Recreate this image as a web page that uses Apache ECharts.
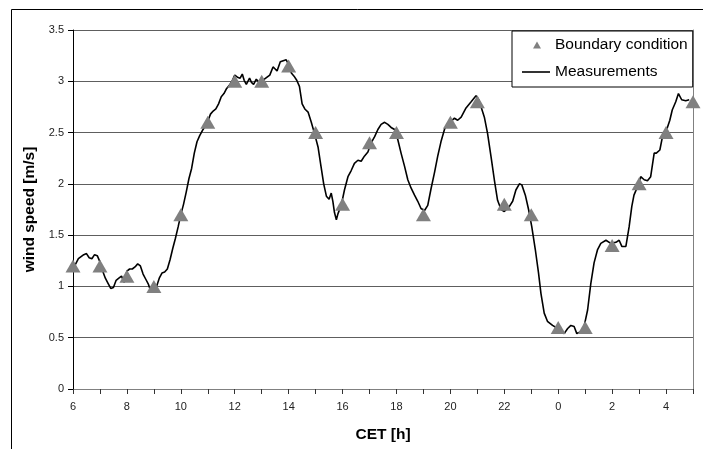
<!DOCTYPE html>
<html>
<head>
<meta charset="utf-8">
<script src="https://cdn.jsdelivr.net/npm/echarts@6/dist/echarts.min.js"></script>
<style>
html,body{margin:0;padding:0;background:#fff;}
#chart{width:703px;height:449px;}
</style>
</head>
<body>
<div id="chart"></div>
<script>
// Boundary condition (hourly), hours counted from 6 h to 29 h (= 5 h next day)
var bcHours = [6,7,8,9,10,11,12,13,14,15,16,17,18,19,20,21,22,23,24,25,26,27,28,29];
var bcValues = [1.2,1.2,1.1,1.0,1.7,2.6,3.0,3.0,3.15,2.5,1.8,2.4,2.5,1.7,2.6,2.8,1.8,1.7,0.6,0.6,1.4,2.0,2.5,2.8];

// Measurements
var measHours = [
6.00,6.10,6.20,6.30,6.40,6.50,6.60,6.70,6.80,6.90,7.00,7.10,7.20,7.30,7.40,7.50,7.60,7.70,7.80,7.90,
8.00,8.10,8.20,8.30,8.40,8.50,8.60,8.70,8.80,8.85,9.00,9.10,9.20,9.30,9.40,9.50,9.60,9.70,9.80,9.90,
10.00,10.10,10.20,10.30,10.40,10.50,10.60,10.70,10.80,10.90,11.00,11.10,11.20,11.30,11.40,11.50,11.60,11.70,11.80,11.90,
12.00,12.10,12.20,12.28,12.35,12.43,12.55,12.62,12.70,12.80,12.90,13.00,13.10,13.20,13.30,13.42,13.50,13.57,13.69,13.80,
13.91,14.00,14.10,14.20,14.30,14.40,14.50,14.60,14.72,14.84,14.96,15.09,15.20,15.30,15.40,15.50,15.58,15.64,15.70,15.77,
15.83,15.95,16.07,16.20,16.32,16.44,16.57,16.69,16.81,16.94,17.06,17.19,17.31,17.43,17.56,17.68,17.80,17.93,18.05,18.17,
18.30,18.42,18.54,18.67,18.79,18.91,19.04,19.16,19.28,19.41,19.53,19.65,19.78,19.90,20.02,20.15,20.27,20.40,20.58,20.77,
20.95,21.05,21.14,21.26,21.38,21.51,21.63,21.75,21.88,22.00,22.19,22.31,22.43,22.56,22.65,22.78,22.90,23.02,23.15,23.27,
23.36,23.48,23.60,23.79,23.98,24.10,24.22,24.35,24.47,24.59,24.69,24.84,24.96,25.09,25.21,25.33,25.46,25.58,25.77,25.95,
26.14,26.26,26.36,26.51,26.63,26.73,26.81,26.94,27.06,27.19,27.31,27.43,27.56,27.64,27.77,27.89,28.05,28.14,28.23,28.36,
28.46,28.58,28.73,28.86
];
var measValues = [
1.19,1.22,1.27,1.29,1.31,1.32,1.28,1.27,1.31,1.30,1.24,1.15,1.08,1.03,0.98,0.99,1.06,1.08,1.10,1.04,
1.15,1.17,1.17,1.19,1.22,1.20,1.12,1.07,1.02,0.98,0.97,1.00,1.08,1.13,1.14,1.17,1.26,1.37,1.47,1.58,
1.70,1.80,1.92,2.05,2.15,2.30,2.41,2.47,2.52,2.56,2.61,2.68,2.71,2.73,2.78,2.85,2.88,2.93,2.96,3.00,
3.06,3.04,3.03,3.07,3.01,2.97,3.03,2.99,2.97,3.02,2.99,3.00,3.02,3.04,3.06,3.14,3.12,3.10,3.19,3.20,
3.21,3.16,3.08,3.05,3.01,2.95,2.78,2.73,2.70,2.60,2.49,2.36,2.17,2.00,1.88,1.85,1.91,1.83,1.72,1.65,
1.71,1.79,1.94,2.07,2.13,2.20,2.23,2.22,2.27,2.31,2.40,2.46,2.53,2.58,2.60,2.58,2.55,2.53,2.43,2.30,
2.17,2.04,1.96,1.89,1.83,1.76,1.74,1.79,1.95,2.11,2.27,2.41,2.53,2.59,2.61,2.64,2.62,2.65,2.74,2.80,
2.86,2.82,2.75,2.65,2.49,2.26,2.04,1.84,1.75,1.73,1.78,1.83,1.94,2.00,1.99,1.89,1.75,1.58,1.36,1.13,
0.93,0.74,0.66,0.62,0.59,0.56,0.54,0.59,0.62,0.61,0.54,0.56,0.61,0.77,1.03,1.23,1.36,1.42,1.45,1.42,
1.43,1.45,1.39,1.39,1.58,1.78,1.89,1.97,2.07,2.04,2.03,2.07,2.30,2.30,2.33,2.49,2.55,2.62,2.72,2.80,
2.88,2.82,2.81,2.82
];

var xName = 'CET [h]';
var yName = 'wind speed [m/s]';
var bcName = 'Boundary condition';
var measName = 'Measurements';

var bcData = bcHours.map(function (h, i) { return [h, bcValues[i]]; });
var measData = measHours.map(function (h, i) { return [h, measValues[i]]; });

var FONT = '"Liberation Sans", Arial, sans-serif';
var chart = echarts.init(document.getElementById('chart'), null, {renderer: 'canvas'});

chart.setOption({
  animation: false,
  backgroundColor: '#ffffff',
  textStyle: {fontFamily: FONT},
  grid: {left: 73, right: 10, top: 30, bottom: 60, containLabel: false},
  xAxis: {
    type: 'value',
    min: 6, max: 29, interval: 1,
    name: xName,
    nameLocation: 'middle',
    nameGap: 38,
    nameTextStyle: {fontFamily: FONT, fontSize: 15.5, fontWeight: 'bold', color: '#000'},
    axisLine: {show: true, lineStyle: {color: '#808080', width: 1}},
    axisTick: {show: true, inside: false, length: 5, lineStyle: {color: '#333', width: 1}},
    axisLabel: {
      show: true, margin: 12, color: '#222', fontFamily: FONT, fontSize: 11,
      showMinLabel: true, showMaxLabel: true,
      formatter: function (v) { return (Math.round(v) % 2 === 0) ? String(Math.round(v) % 24) : ''; }
    },
    splitLine: {show: false}
  },
  yAxis: [{
    type: 'value',
    min: 0, max: 3.5, interval: 0.5,
    name: yName,
    nameLocation: 'middle',
    nameGap: 35,
    nameRotate: 90,
    nameTextStyle: {fontFamily: FONT, fontSize: 15.5, fontWeight: 'bold', color: '#000'},
    axisLine: {show: true, lineStyle: {color: '#000', width: 1}},
    axisTick: {show: true, inside: false, length: 5, lineStyle: {color: '#000', width: 1}},
    axisLabel: {margin: 9, color: '#222', fontFamily: FONT, fontSize: 11},
    splitLine: {show: true, lineStyle: {color: '#5e5e5e', width: 1}}
  }, {
    type: 'value',
    position: 'right',
    min: 0, max: 3.5,
    axisLine: {show: true, lineStyle: {color: '#808080', width: 1}},
    axisTick: {show: false},
    axisLabel: {show: false},
    splitLine: {show: false}
  }],
  legend: {
    show: true,
    orient: 'vertical',
    left: 512, top: 31,
    padding: [5, 5, 6, 10],
    itemGap: 9,
    itemWidth: 28,
    itemHeight: 14,
    backgroundColor: '#fff',
    borderColor: '#000',
    borderWidth: 1,
    borderRadius: 0,
    textStyle: {fontFamily: FONT, fontSize: 15.5, color: '#000', lineHeight: 18},
    data: [
      {name: bcName, icon: 'path://M0 0M28 0M28 14M0 14M11 10.5L15 3.5L19 10.5Z', itemStyle: {color: '#808080'}},
      {name: measName, icon: 'path://M0 0M28 0M28 14M0 14M0 6.2L28 6.2L28 7.8L0 7.8Z', itemStyle: {color: '#000', borderWidth: 0}}
    ]
  },
  series: [{
    name: measName,
    type: 'line',
    data: measData,
    symbol: 'none',
    showSymbol: false,
    smooth: false,
    lineStyle: {color: '#000', width: 1.6},
    itemStyle: {color: '#000'},
    z: 2
  }, {
    name: bcName,
    type: 'scatter',
    data: bcData,
    symbol: 'triangle',
    symbolSize: [15, 13],
    itemStyle: {color: '#808080', opacity: 1},
    z: 3
  }],
  graphic: [
    {type: 'line', shape: {x1: 11.5, y1: 9.5, x2: 703, y2: 9.5}, style: {stroke: '#000', lineWidth: 1}, silent: true},
    {type: 'line', shape: {x1: 11.5, y1: 9.5, x2: 11.5, y2: 449}, style: {stroke: '#000', lineWidth: 1}, silent: true}
  ]
});
</script>
</body>
</html>
